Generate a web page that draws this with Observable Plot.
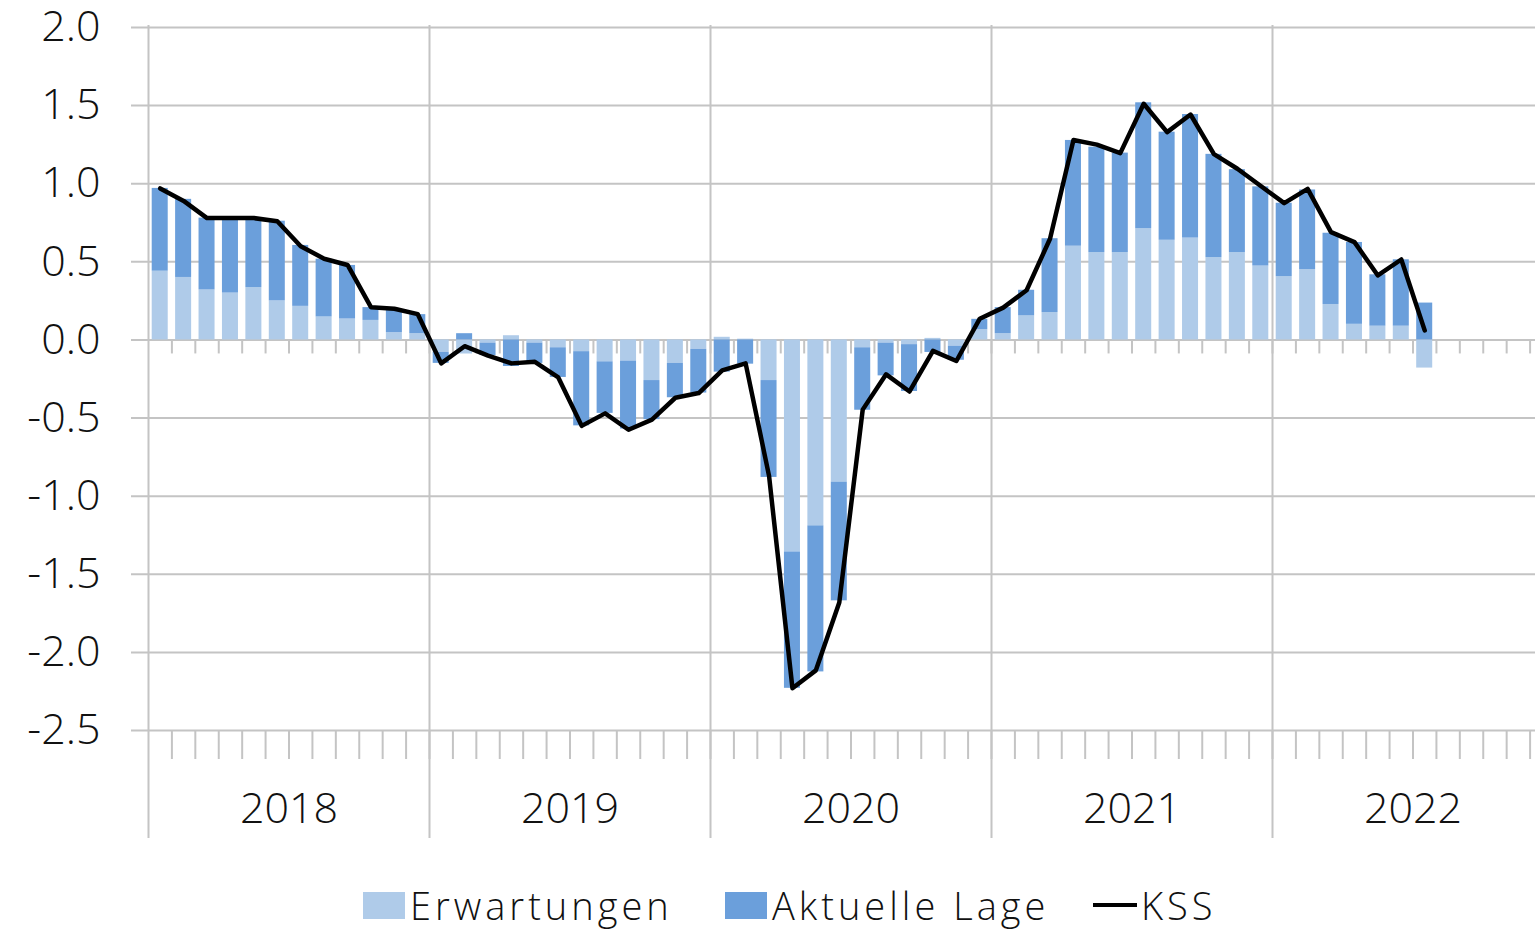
<!DOCTYPE html>
<html>
<head>
<meta charset="utf-8">
<script src="https://cdn.jsdelivr.net/npm/d3@7"></script>
<script src="https://cdn.jsdelivr.net/npm/@observablehq/plot@0.6"></script>
<style>
  html, body { margin: 0; padding: 0; background: #fff; overflow: hidden; }
  #page { position: relative; width: 1535px; height: 931px; overflow: hidden; font-family: "Open Sans", sans-serif; font-weight: 300; }
  #chart { position: absolute; left: 0; top: 0; width: 1553px; }
  #chart svg { max-width: none !important; width: 1553px; height: 860px; }
  .lg { position: absolute; top: 880px; height: 50px; display: flex; align-items: center; font-size: 38px; letter-spacing: 4px; color: #111; white-space: nowrap; }
  .sw { width: 42px; height: 27px; margin-right: 5px; }
  .ln { width: 44px; height: 4px; background: #000; margin-right: 4px; }
</style>
</head>
<body>
<div id="page">
  <div id="chart"></div>
  <div class="lg" style="left:363px"><div class="sw" style="background:#AFCBE9"></div><span>Erwartungen</span></div>
  <div class="lg" style="left:725px"><div class="sw" style="background:#6B9FDB"></div><span>Aktuelle Lage</span></div>
  <div class="lg" style="left:1093px"><div class="ln"></div><span>KSS</span></div>
</div>
<script>
// Monthly data, Jan 2018 – Jul 2022
const startYear = 2018;
const years = [2018, 2019, 2020, 2021, 2022];
const seriesNames = ["Erwartungen", "Aktuelle Lage"];
const erwartungen = [
  0.44, 0.40, 0.32, 0.30, 0.335, 0.25, 0.215, 0.147, 0.134, 0.125, 0.047, 0.04,
  -0.08, -0.09, -0.02, 0.027, -0.02, -0.05, -0.075, -0.14, -0.135, -0.26, -0.15, -0.06,
  0.017, 0.005, -0.26, -1.357, -1.19, -0.91, -0.05, -0.02, -0.03, 0.01, -0.04, 0.066,
  0.04, 0.154, 0.175, 0.60, 0.559, 0.559, 0.712, 0.638, 0.652, 0.527, 0.559, 0.473,
  0.405, 0.45, 0.227, 0.10, 0.088, 0.088, -0.18
];
const aktuelleLage = [
  0.53, 0.50, 0.46, 0.48, 0.445, 0.51, 0.39, 0.37, 0.343, 0.082, 0.143, 0.122,
  -0.07, 0.04, -0.08, -0.17, -0.13, -0.19, -0.475, -0.33, -0.435, -0.25, -0.22, -0.28,
  -0.206, -0.155, -0.62, -0.873, -0.935, -0.76, -0.40, -0.21, -0.30, -0.08, -0.09, 0.066,
  0.167, 0.164, 0.473, 0.677, 0.675, 0.637, 0.806, 0.692, 0.791, 0.661, 0.531, 0.507,
  0.47, 0.51, 0.456, 0.524, 0.329, 0.425, 0.236
];
const kss = [
  0.97, 0.89, 0.78, 0.78, 0.78, 0.76, 0.60, 0.52, 0.48, 0.21, 0.20, 0.165,
  -0.15, -0.04, -0.10, -0.15, -0.14, -0.24, -0.55, -0.47, -0.575, -0.51, -0.37, -0.34,
  -0.195, -0.15, -0.87, -2.23, -2.115, -1.68, -0.446, -0.22, -0.33, -0.07, -0.135, 0.136,
  0.207, 0.318, 0.648, 1.28, 1.25, 1.196, 1.512, 1.33, 1.443, 1.19, 1.096, 0.985,
  0.876, 0.967, 0.69, 0.626, 0.413, 0.515, 0.061
];
const yTicks = [2.0, 1.5, 1.0, 0.5, 0.0, -0.5, -1.0, -1.5, -2.0, -2.5];

const colors = ["#AFCBE9", "#6B9FDB"];
const gridColor = "#C4C4C4";

const nMonths = years.length * 12;
const bars = [];
erwartungen.forEach((v, i) => bars.push({m: i, series: seriesNames[0], value: v}));
aktuelleLage.forEach((v, i) => bars.push({m: i, series: seriesNames[1], value: v}));
const line = kss.map((v, i) => ({m: i, value: v}));
const monthBounds = d3.range(1, nMonths);
const yearBounds = years.map((y, i) => i * 12).concat([nMonths]);
const yearMids = years.map((y, i) => i * 12 + 6);
const yMin = d3.min(yTicks), yMax = d3.max(yTicks);

const chart = Plot.plot({
  width: 1553,
  height: 860,
  marginLeft: 148,
  marginRight: 0,
  marginTop: 27,
  marginBottom: 130,
  style: {fontFamily: "'Open Sans', sans-serif", fontWeight: 300, fontSize: "43px", color: "#111", background: "#fff", overflow: "visible", maxWidth: "none"},
  x: {type: "linear", domain: [0, nMonths], ticks: yearMids, tickSize: 0, tickPadding: 62,
      tickFormat: d => String(startYear + (d - 6) / 12), label: null},
  y: {domain: [yMin, yMax], ticks: yTicks, tickSize: 0, tickPadding: 48,
      tickFormat: d => d.toFixed(1), label: null},
  color: {domain: seriesNames, range: colors},
  marks: [
    Plot.ruleY(yTicks, {y: d => d, stroke: gridColor, strokeWidth: 2, insetLeft: -17}),
    Plot.ruleX(yearBounds, {x: d => d, stroke: gridColor, strokeWidth: 2, insetTop: -2, insetBottom: -108}),
    Plot.ruleX(monthBounds, {x: d => d, y1: 0, y2: 0, insetBottom: -14, stroke: gridColor, strokeWidth: 2}),
    Plot.ruleX(monthBounds, {x: d => d, y1: yMin, y2: yMin, insetBottom: -29, stroke: gridColor, strokeWidth: 2}),
    Plot.rectY(bars, {x1: d => d.m, x2: d => d.m + 1, y: "value", fill: "series", insetLeft: 3.7, insetRight: 3.7}),
    Plot.line(line, {x: d => d.m + 0.5, y: "value", stroke: "#000", strokeWidth: 4.5, strokeLinejoin: "round", strokeLinecap: "round"})
  ]
});
chart.querySelectorAll("[aria-label='x-axis'] text").forEach(t => { t.style.fontSize = "45px"; t.style.letterSpacing = "1.2px"; });
chart.querySelectorAll("[aria-label='y-axis'] text").forEach(t => { t.style.letterSpacing = "2px"; });
document.getElementById("chart").appendChild(chart);
</script>
</body>
</html>
